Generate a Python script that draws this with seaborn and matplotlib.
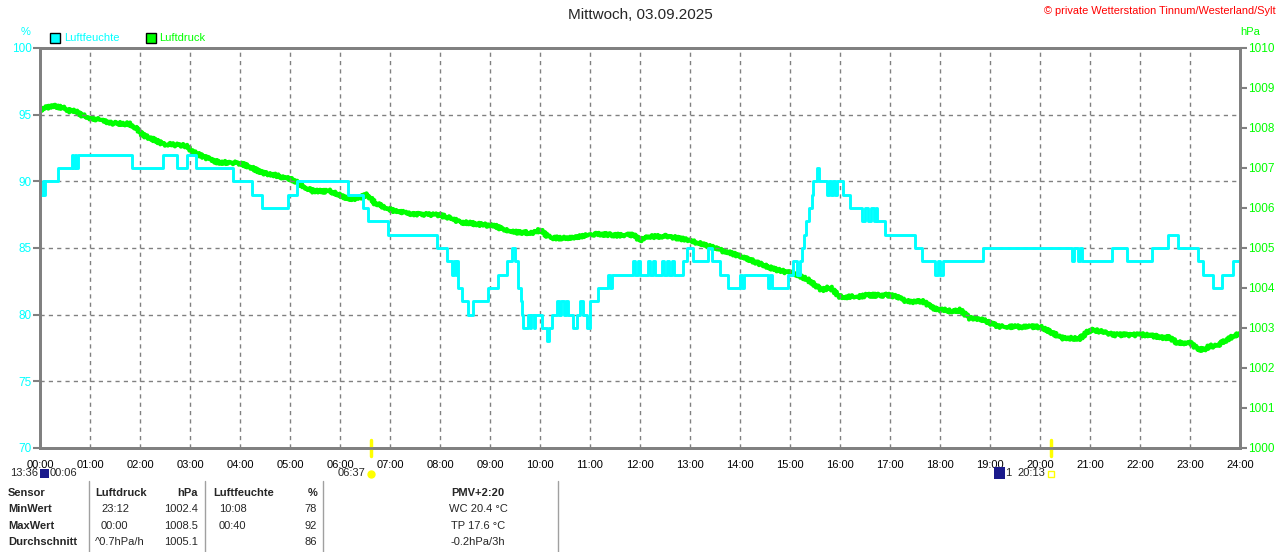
import numpy as np
import pandas as pd
import matplotlib.pyplot as plt
from matplotlib.lines import Line2D
import seaborn as sns

# Daten (Stunden seit Mitternacht)
hum_time = [0.00, 0.06, 0.08, 0.10, 0.36, 0.64, 0.66, 0.70, 0.72, 0.76, 1.84, 2.46, 2.74, 2.94, 3.12,
            3.86, 4.24, 4.44, 4.96, 5.14, 6.16, 6.46, 6.56, 6.96, 7.94, 8.14, 8.24, 8.28, 8.32, 8.34,
            8.36, 8.44, 8.56, 8.66, 8.96, 9.16, 9.34, 9.44, 9.50, 9.56, 9.62, 9.64, 9.66, 9.76, 9.80,
            9.82, 9.88, 9.90, 10.04, 10.14, 10.18, 10.24, 10.34, 10.38, 10.42, 10.48, 10.52, 10.56, 10.66, 10.74,
            10.80, 10.86, 10.94, 11.00, 11.16, 11.36, 11.40, 11.44, 11.86, 11.90, 11.96, 12.00, 12.16, 12.20, 12.26,
            12.30, 12.44, 12.48, 12.54, 12.58, 12.64, 12.68, 12.86, 12.94, 13.06, 13.36, 13.44, 13.60, 13.76, 14.00,
            14.04, 14.08, 14.56, 14.60, 14.64, 14.96, 15.06, 15.14, 15.20, 15.24, 15.28, 15.32, 15.38, 15.44, 15.46,
            15.54, 15.58, 15.74, 15.78, 15.82, 15.86, 15.90, 15.94, 16.06, 16.20, 16.44, 16.50, 16.56, 16.62, 16.68,
            16.72, 16.74, 16.90, 17.50, 17.64, 17.90, 17.96, 18.00, 18.06, 18.86, 20.64, 20.68, 20.76, 20.80, 20.84,
            21.44, 21.74, 22.24, 22.56, 22.76, 23.16, 23.26, 23.46, 23.64, 23.86, 24.00]
hum_pct = [89, 90, 89, 90, 91, 92, 91, 92, 91, 92, 91, 92, 91, 92, 91,
           90, 89, 88, 89, 90, 89, 88, 87, 86, 85, 84, 83, 84, 83, 84,
           82, 81, 80, 81, 82, 83, 84, 85, 84, 82, 81, 80, 79, 80, 79,
           80, 79, 80, 79, 78, 79, 80, 81, 80, 81, 80, 81, 80, 79, 80,
           81, 80, 79, 81, 82, 83, 82, 83, 84, 83, 84, 83, 84, 83, 84,
           83, 84, 83, 84, 83, 84, 83, 84, 85, 84, 85, 84, 83, 82, 83,
           82, 83, 82, 83, 82, 83, 84, 83, 84, 85, 86, 87, 88, 89, 90,
           91, 90, 89, 90, 89, 90, 89, 90, 89, 88, 87, 88, 87, 88, 87,
           88, 87, 86, 85, 84, 83, 84, 83, 84, 85, 84, 85, 84, 85, 84,
           85, 84, 85, 86, 85, 84, 83, 82, 83, 84, 84]

pres_time = [0.00, 0.10, 0.26, 0.40, 0.50, 0.60, 0.70, 0.84, 1.00, 1.20, 1.46, 1.80, 1.90, 2.06, 2.20,
             2.46, 2.70, 2.94, 3.06, 3.20, 3.54, 4.00, 4.20, 4.46, 4.70, 5.06, 5.26, 5.46, 5.80, 6.14,
             6.30, 6.54, 6.70, 6.94, 7.10, 7.46, 8.00, 8.20, 8.40, 8.86, 9.10, 9.40, 9.86, 10.00, 10.20,
             10.66, 11.00, 11.20, 11.54, 11.86, 12.00, 12.20, 12.54, 12.94, 13.20, 13.60, 14.06, 14.44, 14.74, 15.00,
             15.20, 15.34, 15.64, 15.80, 16.00, 16.34, 16.54, 17.00, 17.14, 17.34, 17.66, 17.94, 18.14, 18.24, 18.40,
             18.60, 18.80, 19.00, 19.20, 20.00, 20.26, 20.46, 20.80, 21.00, 21.20, 21.46, 22.14, 22.46, 22.60, 22.74,
             23.00, 23.14, 23.26, 23.40, 23.54, 23.66, 23.94, 24.00]
pres_hpa = [1008.45, 1008.50, 1008.56, 1008.52, 1008.50, 1008.42, 1008.44, 1008.32, 1008.25, 1008.20, 1008.12, 1008.10, 1008.02, 1007.82, 1007.75,
            1007.60, 1007.58, 1007.55, 1007.40, 1007.32, 1007.15, 1007.12, 1007.02, 1006.88, 1006.82, 1006.70, 1006.55, 1006.42, 1006.42, 1006.25,
            1006.22, 1006.33, 1006.12, 1006.00, 1005.92, 1005.85, 1005.82, 1005.75, 1005.65, 1005.58, 1005.55, 1005.40, 1005.38, 1005.45, 1005.25,
            1005.25, 1005.33, 1005.35, 1005.32, 1005.33, 1005.20, 1005.28, 1005.30, 1005.20, 1005.12, 1004.95, 1004.78, 1004.58, 1004.45, 1004.38,
            1004.30, 1004.22, 1003.95, 1004.02, 1003.78, 1003.78, 1003.82, 1003.82, 1003.78, 1003.66, 1003.66, 1003.45, 1003.45, 1003.40, 1003.45,
            1003.24, 1003.24, 1003.12, 1003.03, 1003.03, 1002.87, 1002.74, 1002.74, 1002.95, 1002.92, 1002.83, 1002.83, 1002.76, 1002.76, 1002.63,
            1002.63, 1002.49, 1002.45, 1002.55, 1002.55, 1002.65, 1002.85, 1002.85]

hour_labels = [f"{h:02d}:00" for h in range(25)]
hum_ticks = [70, 75, 80, 85, 90, 95, 100]
pres_ticks = list(range(1000, 1011))

sun_rise, sun_set = 6 + 37 / 60, 20 + 13 / 60

table_rows = [
    ["Sensor", "Luftdruck", "hPa", "Luftfeuchte", "%", "PMV+2:20"],
    ["MinWert", "23:12", "1002.4", "10:08", "78", "WC 20.4 °C"],
    ["MaxWert", "00:00", "1008.5", "00:40", "92", "TP 17.6 °C"],
    ["Durchschnitt", "^0.7hPa/h", "1005.1", "", "86", "-0.2hPa/3h"],
]

CYAN = "#00FFFF"
GREEN = "#00FF00"
GRAU = "#808080"

sns.set_style("white")
plt.rcParams['font.family'] = ['Liberation Sans', 'DejaVu Sans']

W, H = 1280, 552
fig = plt.figure(figsize=(W / 100, H / 100), dpi=100)


def px(x, y):
    return x / W, 1 - y / H


ax = fig.add_axes([40 / W, 1 - 448 / H, 1200 / W, 400 / H])
ax2 = ax.twinx()

df_h = pd.DataFrame({"t": hum_time, "v": hum_pct})
df_p = pd.DataFrame({"t": pres_time, "v": pres_hpa})

sns.lineplot(data=df_p, x="t", y="v", ax=ax2, color=GREEN, lw=3.0, estimator=None, sort=False)
# Messrauschen des Luftdrucks nur als Linienstil
ax2.lines[0].set_sketch_params(scale=1.6, length=3, randomness=2)
sns.lineplot(data=df_h, x="t", y="v", ax=ax, color=CYAN, lw=2.1, estimator=None, sort=False,
             drawstyle="steps-post")

# Reihenfolge: Luftfeuchte ueber Luftdruck
ax.set_zorder(ax2.get_zorder() + 1)
ax.patch.set_visible(False)

ax.set_xlim(0, 24)
ax.set_ylim(70, 100)
ax2.set_ylim(1000, 1010)
ax.set_xticks(range(25))
ax.set_xticklabels(hour_labels)
ax.set_yticks(hum_ticks)
ax2.set_yticks(pres_ticks)
ax.set_xlabel("")
ax.set_ylabel("")
ax2.set_ylabel("")

ax.grid(True, color=GRAU, linestyle=(0, (3, 3)), lw=1)
ax.set_axisbelow(True)

for a in (ax, ax2):
    for s in a.spines.values():
        s.set_color(GRAU)
        s.set_linewidth(2)

ax.tick_params(axis='x', colors=GRAU, labelcolor='black', length=6, width=1.5, labelsize=8, pad=3, direction='out')
ax.tick_params(axis='y', colors=GRAU, labelcolor=CYAN, length=5, width=1.5, labelsize=8.5, pad=1, direction='out')
ax2.tick_params(axis='y', colors=GRAU, labelcolor=GREEN, length=5, width=1.5, labelsize=8.5, pad=1, direction='out')

# Sonnenauf-/untergang
for t in (sun_rise, sun_set):
    ax.axvline(t, ymin=-0.02, ymax=0.02, color="#FFFF00", lw=2.5, clip_on=False)

# Kopfzeile
fig.text(*px(640, 15), "Mittwoch, 03.09.2025", ha='center', va='center', fontsize=11)
fig.text(*px(1276, 11), "© private Wetterstation Tinnum/Westerland/Sylt", ha='right', va='center',
         fontsize=7.9, color='red')
fig.text(*px(26, 32), "%", ha='center', va='center', fontsize=8, color=CYAN)
fig.text(*px(1250, 32), "hPa", ha='center', va='center', fontsize=8, color=GREEN)

# Legende
fig.patches.append(plt.Rectangle(px(50, 43), 10 / W, 10 / H, transform=fig.transFigure,
                                 facecolor=CYAN, edgecolor='black', lw=1))
fig.text(*px(64, 38), "Luftfeuchte", va='center', fontsize=8, color=CYAN)
fig.patches.append(plt.Rectangle(px(146, 43), 10 / W, 10 / H, transform=fig.transFigure,
                                 facecolor=GREEN, edgecolor='black', lw=1))
fig.text(*px(159, 38), "Luftdruck", va='center', fontsize=8, color=GREEN)

# Mond / Sonne unter der Achse
fig.text(*px(10, 473), "13:36", va='center', fontsize=8)
fig.patches.append(plt.Rectangle(px(40, 478), 9 / W, 9 / H, transform=fig.transFigure,
                                 facecolor='#1a1a8c', edgecolor='none'))
fig.text(*px(50, 473), "00:06", va='center', fontsize=8)
fig.text(*px(338, 473), "06:37", va='center', fontsize=8)
fig.add_artist(Line2D([px(371, 474)[0]], [px(371, 474)[1]], marker='o', ms=5, color='#FFFF00',
                      transform=fig.transFigure))
fig.patches.append(plt.Rectangle(px(994, 479), 11 / W, 12 / H, transform=fig.transFigure,
                                 facecolor='#1a1a8c', edgecolor='none'))
fig.text(*px(1005, 473), "1", va='center', fontsize=8)
fig.text(*px(1017, 473), "20:13", va='center', fontsize=8)
fig.add_artist(Line2D([px(1051, 474)[0]], [px(1051, 474)[1]], marker='s', ms=4, mfc='none',
                      mec='#FFFF00', transform=fig.transFigure))

# Tabelle
for x in (89, 205, 323, 558):
    fig.add_artist(Line2D([x / W, x / W], [1 - 481 / H, 0], color='#a0a0a0', lw=1,
                          transform=fig.transFigure))

row_y = [493, 509, 526, 542]
for i, row in enumerate(table_rows):
    y = row_y[i]
    w = 'bold' if i == 0 else 'normal'
    fig.text(*px(8, y), row[0], va='center', fontsize=8, fontweight='bold')
    x_left = 95 if (i == 0 or i == 3) else 101
    fig.text(*px(x_left, y), row[1], va='center', fontsize=8, fontweight=w)
    fig.text(*px(198, y), row[2], va='center', ha='right', fontsize=8, fontweight=w)
    fig.text(*px(213 if i == 0 else 219, y), row[3], va='center', fontsize=8, fontweight=w)
    fig.text(*px(317, y), row[4], va='center', ha='right', fontsize=8, fontweight=w)
    fig.text(*px(478, y), row[5], va='center', ha='center', fontsize=8, fontweight=w)

fig.savefig("out.png", dpi=100, facecolor='white')
